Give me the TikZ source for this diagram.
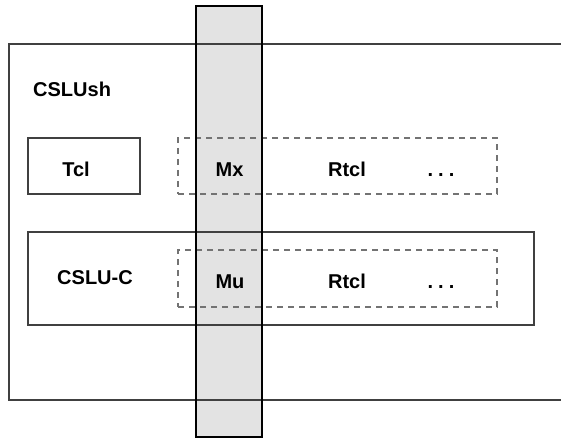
\documentclass[tikz,border=0pt]{standalone}
\usepackage{fontspec}
\setmainfont{Liberation Sans}
\begin{document}
\begin{tikzpicture}[x=1pt,y=-1pt,
  lbl/.style={font=\fontsize{20}{23}\selectfont\bfseries, inner sep=0pt, anchor=base},
  solidbox/.style={draw=black!75, line width=1.2pt},
  dashbox/.style={draw=black!55, line width=1.2pt, dash pattern=on 6pt off 5pt},
  colfill/.style={fill=black!11},
  colborder/.style={draw=black, line width=2.5pt}]
\useasboundingbox (0,0) rectangle (561,438);
% gray column fill
\fill[colfill] (196,6) rectangle (262,437);
% outer CSLUsh box (open to the right)
\coordinate (o1) at (565,44);
\coordinate (o2) at (9,44);
\coordinate (o3) at (9,400);
\coordinate (o4) at (565,400);
\draw[solidbox] (o1) -- (o2) -- (o3) -- (o4);
\node[lbl, anchor=base west] (cslush) at (33,97) {CSLUsh};
% Tcl box
\node[solidbox, minimum width=112pt, minimum height=56pt, inner sep=0pt] (tclbox) at (84,166) {};
\node[lbl] (tcl) at (76,177) {Tcl};
% Mx dashed box
\node[dashbox, minimum width=319pt, minimum height=56pt, inner sep=0pt] (mxbox) at (337.5,166) {};
\node[lbl] (mx) at (229.5,177) {Mx};
\node[lbl] (rtcl1) at (347,177) {Rtcl};
\node[lbl] (dots1) at (441,177) {.\hspace{5pt}.\hspace{5pt}.};
% CSLU-C box
\node[solidbox, minimum width=506pt, minimum height=93pt, inner sep=0pt] (cslucbox) at (281,278.5) {};
\node[lbl] (csluc) at (95,284) {CSLU-C};
\node[dashbox, minimum width=319pt, minimum height=57pt, inner sep=0pt] (mubox) at (337.5,278.5) {};
\node[lbl] (mu) at (230,288) {Mu};
\node[lbl] (rtcl2) at (347,288) {Rtcl};
\node[lbl] (dots2) at (441,288) {.\hspace{5pt}.\hspace{5pt}.};
% column border
\node[colborder, minimum width=66pt, minimum height=431pt, inner sep=0pt] (column) at (229,221.5) {};
\end{tikzpicture}
\end{document}
